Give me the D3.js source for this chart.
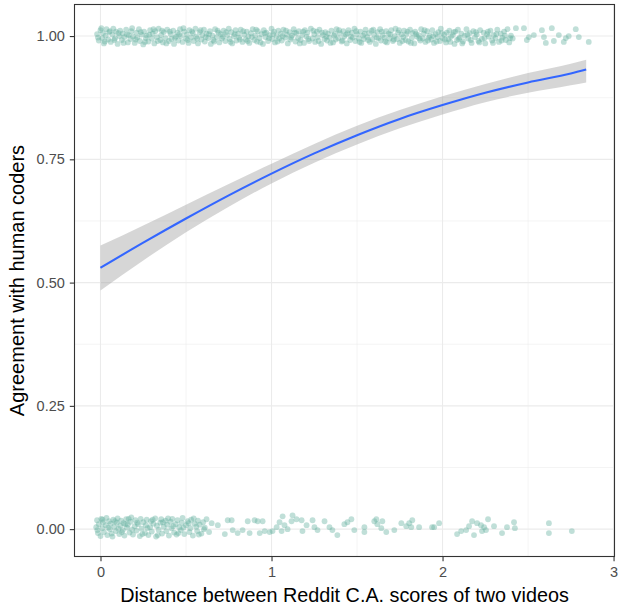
<!DOCTYPE html>
<html><head><meta charset="utf-8">
<script src="https://cdn.jsdelivr.net/npm/d3@7"></script>
<style>body{margin:0;background:#fff}svg{display:block}text{font-family:"Liberation Sans",Arial,Helvetica,sans-serif}</style>
</head><body><svg id="c" width="621" height="607"></svg>
<script>
const xTicks = [0, 1, 2, 3];
const xMinor = [0.5, 1.5, 2.5];
const yTicks = [0, 0.25, 0.5, 0.75, 1];
const yTickLabels = ["0.00", "0.25", "0.50", "0.75", "1.00"];
const yMinor = [0.125, 0.375, 0.625, 0.875];
const xTitle = "Distance between Reddit C.A. scores of two videos";
const yTitle = "Agreement with human coders";

const fitX  = [0, 0.25, 0.5, 0.75, 1.0, 1.25, 1.5, 1.75, 2.0, 2.25, 2.5, 2.75, 2.84];
const fitY  = [0.530, 0.581, 0.630, 0.677, 0.721, 0.762, 0.799, 0.832, 0.860, 0.885, 0.906, 0.924, 0.932];
const fitHi = [0.575, 0.616, 0.658, 0.700, 0.741, 0.781, 0.818, 0.850, 0.878, 0.903, 0.925, 0.944, 0.952];
const fitLo = [0.484, 0.545, 0.602, 0.654, 0.701, 0.743, 0.780, 0.813, 0.841, 0.866, 0.885, 0.900, 0.906];

const topPoints = [[-0.02,1.004],[-0.01,0.991],[0.00,1.012],[0.01,0.996],[0.015,1.006],[0.02,0.985],[0.03,1.001],[0.035,1.014],[0.045,0.993],[0.05,1.008],[0.06,0.988],[0.07,1.003],[0.075,1.015],[0.085,0.995],[0.09,1.009],[0.10,0.984],[0.11,1.000],[0.115,1.011],[0.125,0.992],[0.13,1.005],[0.14,0.998],[0.15,1.013],[0.16,0.987],[0.165,1.002],[0.175,0.994],[0.18,1.010],[0.19,0.999],[0.20,0.986],[0.21,1.007],[0.215,0.997],[0.225,1.014],[0.23,0.990],[0.24,1.003],[0.25,0.983],[0.255,1.009],[0.265,0.996],[0.27,1.001],[0.28,0.989],[0.29,1.012],[0.30,0.995],[0.305,1.005],[0.315,0.985],[0.32,1.010],[0.33,0.998],[0.34,1.015],[0.35,0.992],[0.355,1.002],[0.365,0.987],[0.37,1.008],[0.38,0.996],[0.39,1.013],[0.40,0.990],[0.41,1.004],[0.415,0.994],[0.425,1.011],[0.43,0.984],[0.44,0.999],[0.45,1.007],[0.455,0.991],[0.465,1.014],[0.47,1.000],[0.48,0.988],[0.49,1.009],[0.50,0.995],[0.505,1.003],[0.515,0.986],[0.52,1.012],[0.53,0.997],[0.54,1.006],[0.545,0.990],[0.555,1.015],[0.56,0.999],[0.57,0.985],[0.58,1.008],[0.59,0.993],[0.595,1.002],[0.605,1.013],[0.61,0.989],[0.62,1.005],[0.63,0.996],[0.64,1.010],[0.645,0.984],[0.655,1.001],[0.66,0.992],[0.67,1.014],[0.68,0.998],[0.69,1.007],[0.695,0.987],[0.705,1.004],[0.71,0.995],[0.72,1.011],[0.73,0.990],[0.74,1.002],[0.75,1.015],[0.755,0.994],[0.765,1.008],[0.77,0.985],[0.78,1.000],[0.79,1.012],[0.795,0.991],[0.805,1.005],[0.81,0.997],[0.82,1.013],[0.83,0.988],[0.84,1.003],[0.85,0.993],[0.855,1.009],[0.865,0.999],[0.87,0.986],[0.88,1.006],[0.89,1.014],[0.90,0.992],[0.905,1.001],[0.915,0.989],[0.92,1.010],[0.93,0.996],[0.94,1.004],[0.95,0.984],[0.955,1.012],[0.965,0.998],[0.97,1.007],[0.98,0.990],[0.99,1.002],[1.00,1.015],[1.005,0.994],[1.015,1.009],[1.02,0.987],[1.03,1.000],[1.04,1.011],[1.045,0.995],[1.055,1.005],[1.06,0.991],[1.07,1.013],[1.08,0.997],[1.09,1.003],[1.095,0.985],[1.105,1.008],[1.11,0.993],[1.12,1.001],[1.13,1.014],[1.14,0.989],[1.145,1.006],[1.155,0.996],[1.16,1.010],[1.17,0.992],[1.18,1.002],[1.19,0.986],[1.195,1.012],[1.205,0.999],[1.21,1.007],[1.22,0.990],[1.23,1.015],[1.24,0.995],[1.25,1.004],[1.255,0.988],[1.265,1.009],[1.27,0.998],[1.28,1.013],[1.29,0.984],[1.30,1.002],[1.31,0.994],[1.315,1.008],[1.325,0.991],[1.33,1.005],[1.34,0.997],[1.35,1.011],[1.36,0.987],[1.365,1.001],[1.375,0.993],[1.38,1.014],[1.39,0.996],[1.40,1.006],[1.41,0.989],[1.42,1.010],[1.425,0.999],[1.435,1.003],[1.44,0.985],[1.45,1.012],[1.46,0.992],[1.47,1.007],[1.475,0.997],[1.485,1.015],[1.49,0.990],[1.50,1.004],[1.51,0.995],[1.52,1.009],[1.525,0.986],[1.535,1.001],[1.54,0.994],[1.55,1.013],[1.56,0.998],[1.57,1.006],[1.575,0.988],[1.585,1.011],[1.59,0.993],[1.60,1.003],[1.61,0.984],[1.62,1.008],[1.625,0.996],[1.635,1.014],[1.64,0.991],[1.65,1.002],[1.66,0.997],[1.67,1.010],[1.675,0.987],[1.685,1.005],[1.69,0.995],[1.70,1.012],[1.71,0.990],[1.72,1.000],[1.725,1.015],[1.735,0.994],[1.74,1.007],[1.75,0.986],[1.76,1.003],[1.77,0.998],[1.775,1.011],[1.785,0.992],[1.79,1.004],[1.80,0.989],[1.81,1.013],[1.82,0.996],[1.825,1.006],[1.835,0.985],[1.84,1.009],[1.85,0.999],[1.86,1.002],[1.87,0.991],[1.875,1.014],[1.885,0.995],[1.89,1.005],[1.90,0.988],[1.91,1.010],[1.92,0.997],[1.925,1.001],[1.935,0.993],[1.94,1.012],[1.95,0.986],[1.96,1.004],[1.97,0.998],[1.975,1.008],[1.985,0.990],[1.99,1.015],[2.00,0.996],[2.01,1.003],[2.02,0.987],[2.025,1.007],[2.035,0.994],[2.04,1.011],[2.05,0.999],[2.06,1.002],[2.07,0.984],[2.075,1.009],[2.085,0.992],[2.09,1.013],[2.10,0.997],[2.11,1.005],[2.12,0.989],[2.13,1.001],[2.14,1.014],[2.15,0.995],[2.16,1.006],[2.17,0.986],[2.18,1.010],[2.19,0.998],[2.20,1.003],[2.21,0.990],[2.22,1.012],[2.23,0.994],[2.24,1.007],[2.25,0.985],[2.26,1.004],[2.27,0.999],[2.28,1.011],[2.29,0.991],[2.30,1.002],[2.31,0.996],[2.32,1.013],[2.33,0.988],[2.34,1.005],[2.35,0.997],[2.36,1.009],[2.37,0.992],[2.38,1.014],[2.39,0.987],[2.40,1.001],[2.41,0.995],[2.429,1.016],[2.476,1.016],[2.493,0.992],[2.505,0.998],[2.534,1.002],[2.581,1.012],[2.593,0.998],[2.604,0.986],[2.639,1.016],[2.651,0.990],[2.680,1.002],[2.709,0.988],[2.721,0.996],[2.738,1.000],[2.779,1.014],[2.797,0.998],[2.855,0.988]];

const topPointsExtra = [[-0.015,0.997],[0.005,1.016],[0.025,0.989],[0.055,1.010],[0.08,0.992],[0.105,1.006],[0.135,0.986],[0.155,1.003],[0.185,1.016],[0.205,0.993],[0.235,1.008],[0.26,0.988],[0.285,1.003],[0.31,1.014],[0.335,0.990],[0.36,1.011],[0.385,0.985],[0.405,1.009],[0.435,0.996],[0.46,1.003],[0.485,1.016],[0.51,0.992],[0.535,1.009],[0.565,0.995],[0.585,1.012],[0.615,0.998],[0.635,1.004],[0.665,0.989],[0.685,1.011],[0.715,0.999],[0.735,1.008],[0.76,0.988],[0.785,1.004],[0.815,0.993],[0.835,1.010],[0.86,0.990],[0.885,0.998],[0.91,1.013],[0.935,0.987],[0.96,1.006],[0.985,0.996],[1.01,1.004],[1.035,0.989],[1.065,1.000],[1.085,1.011],[1.115,0.997],[1.135,1.007],[1.165,0.985],[1.185,1.009],[1.215,0.994],[1.245,1.011],[1.275,0.990],[1.295,1.007],[1.32,0.999],[1.345,0.986],[1.37,1.004],[1.395,1.012],[1.415,0.991],[1.445,1.006],[1.465,0.999],[1.495,1.010],[1.515,0.988],[1.545,1.005],[1.565,0.992],[1.595,1.013],[1.615,0.997],[1.645,1.009],[1.665,0.989],[1.695,1.003],[1.715,0.993],[1.745,1.012],[1.765,0.990],[1.795,1.009],[1.815,0.986],[1.845,1.004],[1.865,0.995],[1.895,1.012],[1.915,0.991],[1.945,1.000],[1.965,0.989],[1.995,1.006],[2.015,0.993],[2.045,0.988],[2.065,1.008],[2.095,0.994],[2.115,0.985],[2.145,1.003],[2.165,0.992],[2.195,1.008],[2.215,0.987],[2.245,0.996],[2.265,1.009],[2.295,0.986],[2.315,1.004],[2.345,0.991],[2.365,1.001],[2.395,0.996]];

const bottomPoints = [[-0.025,0.004],[-0.02,0.018],[-0.015,-0.008],[-0.01,0.010],[0.00,-0.014],[0.005,0.021],[0.01,0.002],[0.015,0.014],[0.02,-0.006],[0.03,0.008],[0.035,0.023],[0.04,-0.012],[0.05,0.016],[0.055,0.000],[0.06,0.011],[0.07,-0.015],[0.075,0.019],[0.08,0.005],[0.09,-0.004],[0.095,0.013],[0.10,0.022],[0.11,-0.010],[0.115,0.007],[0.12,0.017],[0.13,-0.002],[0.135,0.012],[0.14,-0.013],[0.15,0.020],[0.155,0.003],[0.16,0.009],[0.17,-0.007],[0.175,0.015],[0.18,0.024],[0.19,-0.011],[0.20,0.006],[0.205,0.018],[0.21,-0.003],[0.22,0.010],[0.23,-0.014],[0.235,0.021],[0.24,0.001],[0.25,0.014],[0.26,-0.008],[0.265,0.008],[0.27,0.019],[0.28,-0.012],[0.29,0.004],[0.295,0.016],[0.30,-0.005],[0.31,0.011],[0.32,0.022],[0.325,-0.015],[0.33,0.007],[0.34,-0.001],[0.35,0.013],[0.355,0.020],[0.36,-0.009],[0.37,0.005],[0.38,0.017],[0.385,-0.004],[0.39,0.009],[0.40,-0.013],[0.41,0.015],[0.415,0.002],[0.42,0.021],[0.43,-0.007],[0.44,0.010],[0.445,-0.011],[0.45,0.018],[0.46,0.004],[0.47,-0.002],[0.475,0.013],[0.48,0.023],[0.49,-0.010],[0.50,0.008],[0.51,0.016],[0.52,-0.006],[0.525,0.002],[0.53,0.019],[0.54,-0.013],[0.55,0.011],[0.56,0.005],[0.565,-0.004],[0.57,0.017],[0.58,0.009],[0.59,-0.009],[0.60,0.014],[0.61,0.003],[0.62,0.020],[0.635,-0.006],[0.65,0.012],[0.686,0.008],[0.727,-0.010],[0.744,0.018],[0.767,0.018],[0.773,-0.002],[0.802,-0.008],[0.831,-0.002],[0.861,0.016],[0.872,-0.008],[0.901,0.018],[0.919,0.016],[0.931,-0.008],[0.948,0.016],[0.960,-0.004],[0.989,-0.006],[1.006,-0.004],[1.030,0.004],[1.047,0.014],[1.059,-0.004],[1.065,0.026],[1.076,0.008],[1.094,0.000],[1.117,0.016],[1.123,0.028],[1.146,0.020],[1.176,0.018],[1.181,-0.004],[1.205,0.008],[1.240,0.018],[1.251,0.004],[1.269,-0.002],[1.310,0.016],[1.339,0.004],[1.356,-0.002],[1.385,-0.012],[1.426,0.010],[1.444,0.014],[1.467,0.020],[1.484,-0.002],[1.543,0.004],[1.543,-0.006],[1.601,0.016],[1.613,0.020],[1.619,0.010],[1.642,0.002],[1.648,0.016],[1.671,-0.006],[1.718,-0.002],[1.759,0.012],[1.788,0.006],[1.805,0.012],[1.817,0.004],[1.823,0.018],[1.863,0.004],[1.939,0.004],[1.951,0.004],[1.980,0.012],[2.085,-0.010],[2.109,-0.004],[2.138,-0.002],[2.155,0.006],[2.173,0.016],[2.184,-0.012],[2.202,0.012],[2.225,0.008],[2.231,-0.004],[2.243,0.004],[2.254,-0.002],[2.266,0.020],[2.301,0.006],[2.348,-0.008],[2.377,0.004],[2.418,0.014],[2.423,0.002],[2.622,0.012],[2.622,-0.008],[2.756,-0.004]];

const bottomPointsExtra = [[-0.018,-0.002],[0.012,0.019],[0.045,0.003],[0.065,-0.009],[0.085,0.016],[0.105,0.001],[0.125,-0.006],[0.145,0.010],[0.165,0.021],[0.185,-0.001],[0.215,0.013],[0.245,-0.010],[0.275,0.002],[0.305,0.019],[0.335,-0.012],[0.365,0.014],[0.395,0.022],[0.425,0.006],[0.455,-0.008],[0.485,0.003],[0.515,0.012],[0.545,0.022],[0.575,-0.011],[0.605,0.000]];

const W = 621, H = 607;
const P = {left: 74.5, right: 614.5, top: 4.5, bottom: 556.5};
const x = d3.scaleLinear().domain([-0.152, 3.0055]).range([P.left, P.right]);
const y = d3.scaleLinear().domain([-0.0555, 1.064]).range([P.bottom, P.top]);

const svg = d3.select("#c");
const g = svg.append("g");

// grid
g.selectAll(".xmin").data(xMinor).enter().append("line")
  .attr("x1", d => x(d)).attr("x2", d => x(d)).attr("y1", P.top).attr("y2", P.bottom)
  .attr("stroke", "#ebebeb").attr("stroke-width", 0.55);
g.selectAll(".ymin").data(yMinor).enter().append("line")
  .attr("y1", d => y(d)).attr("y2", d => y(d)).attr("x1", P.left).attr("x2", P.right)
  .attr("stroke", "#ebebeb").attr("stroke-width", 0.55);
g.selectAll(".xmaj").data(xTicks).enter().append("line")
  .attr("x1", d => x(d)).attr("x2", d => x(d)).attr("y1", P.top).attr("y2", P.bottom)
  .attr("stroke", "#ebebeb").attr("stroke-width", 1.1);
g.selectAll(".ymaj").data(yTicks).enter().append("line")
  .attr("y1", d => y(d)).attr("y2", d => y(d)).attr("x1", P.left).attr("x2", P.right)
  .attr("stroke", "#ebebeb").attr("stroke-width", 1.1);

// points
const ptColor = "#69b3a2";
const allPts = topPoints.concat(topPointsExtra, bottomPoints, bottomPointsExtra);
g.selectAll(".pt").data(allPts).enter().append("circle")
  .attr("cx", d => x(d[0])).attr("cy", d => y(d[1])).attr("r", 2.9)
  .attr("fill", ptColor).attr("fill-opacity", 0.42);

// ribbon + line
const fit = fitX.map((v, i) => ({x: v, y: fitY[i], lo: fitLo[i], hi: fitHi[i]}));
g.append("path").datum(fit)
  .attr("d", d3.area().x(d => x(d.x)).y0(d => y(d.lo)).y1(d => y(d.hi)).curve(d3.curveMonotoneX))
  .attr("fill", "#999999").attr("fill-opacity", 0.4);
g.append("path").datum(fit)
  .attr("d", d3.line().x(d => x(d.x)).y(d => y(d.y)).curve(d3.curveMonotoneX))
  .attr("fill", "none").attr("stroke", "#3366FF").attr("stroke-width", 2.1);

// border
g.append("rect").attr("x", P.left).attr("y", P.top)
  .attr("width", P.right - P.left).attr("height", P.bottom - P.top)
  .attr("fill", "none").attr("stroke", "#333333").attr("stroke-width", 1.1);

// axes
const xAxis = d3.axisBottom(x).tickValues(xTicks).tickSize(4.7).tickPadding(6).tickFormat(d3.format("d"));
const xa = svg.append("g").attr("transform", `translate(0,${P.bottom})`).call(xAxis);
const yAxis = d3.axisLeft(y).tickValues(yTicks).tickSize(4.7).tickPadding(5).tickFormat((d, i) => yTickLabels[i]);
const ya = svg.append("g").attr("transform", `translate(${P.left},0)`).call(yAxis);
[xa, ya].forEach(a => {
  a.select(".domain").remove();
  a.selectAll(".tick line").attr("stroke", "#333333").attr("stroke-width", 1.1);
  a.selectAll(".tick text").attr("fill", "#4d4d4d").style("font-size", "14.5px")
   .style("font-family", "'Liberation Sans', Arial, sans-serif");
});

svg.append("text").attr("x", (P.left + P.right) / 2).attr("y", 602)
  .attr("text-anchor", "middle").style("font-size", "19.8px").attr("fill", "#000").text(xTitle);
svg.append("text").attr("transform", `translate(24,${(P.top + P.bottom) / 2}) rotate(-90)`)
  .attr("text-anchor", "middle").style("font-size", "20px").attr("fill", "#000").text(yTitle);
</script></body></html>
